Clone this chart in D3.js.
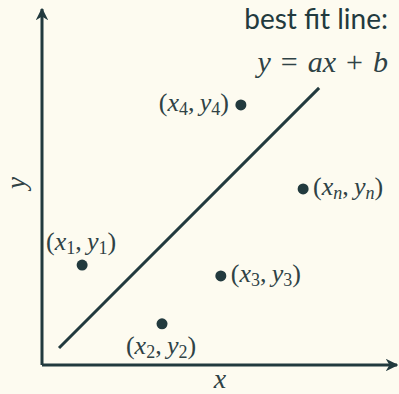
<!DOCTYPE html>
<html>
<head>
<meta charset="utf-8">
<script src="https://cdn.jsdelivr.net/npm/d3@7"></script>
<style>
	html, body { margin: 0; padding: 0; background: #fdfbf0; }
	svg { display: block; }
</style>
</head>
<body>
<svg id="chart" width="399" height="394"></svg>
<script>
"use strict";

// data points (schematic units, 0..10 on both axes)
var pointNames = ["1", "2", "3", "4", "n"];
var pointX = [1.18, 3.53, 5.26, 5.85, 7.68];
var pointY = [2.94, 1.21, 2.62, 7.65, 5.18];
// where each label sits relative to its dot
var labelSide = ["above", "below", "right", "left", "right"];

// best fit line y = a*x + b, drawn between these x values
var fitA = 1.0;
var fitB = 0.0;
var fitFrom = 0.5;
var fitTo = 8.15;

var ink = "#223a3e";
var soft = "#2f4245";
var bg = "#fdfbf0";
var serif = "Liberation Serif";

var svg = d3.select("#chart");
svg.append("rect").attr("width", 399).attr("height", 394).attr("fill", bg);

var ox = 42, oy = 365;
var x = d3.scaleLinear().domain([0, 10]).range([ox, ox + 340]);
var y = d3.scaleLinear().domain([0, 10]).range([oy, oy - 340]);

// arrow heads
var defs = svg.append("defs");
defs.append("marker")
	.attr("id", "arrow")
	.attr("viewBox", "0 0 10 10")
	.attr("refX", 9).attr("refY", 5)
	.attr("markerWidth", 4.2).attr("markerHeight", 4.2)
	.attr("markerUnits", "strokeWidth")
	.attr("orient", "auto")
	.append("path")
	.attr("d", "M0,0 L10,5 L0,10 L3,5 Z")
	.attr("fill", ink);

// axes
svg.append("path")
	.attr("d", "M" + ox + "," + oy + " L" + ox + ",9")
	.attr("stroke", ink).attr("stroke-width", 3).attr("fill", "none")
	.attr("marker-end", "url(#arrow)");
svg.append("path")
	.attr("d", "M" + ox + "," + oy + " L397," + oy)
	.attr("stroke", ink).attr("stroke-width", 3).attr("fill", "none")
	.attr("marker-end", "url(#arrow)");

// axis labels
svg.append("text")
	.attr("font-family", serif).attr("font-style", "italic")
	.attr("x", 220).attr("y", 388)
	.attr("text-anchor", "middle")
	.attr("font-size", 28).attr("fill", soft)
	.text("x");
svg.append("text")
	.attr("font-family", serif).attr("font-style", "italic")
	.attr("transform", "translate(25,183) rotate(-90)")
	.attr("text-anchor", "middle")
	.attr("font-size", 27).attr("fill", soft)
	.text("y");

// fit line
var line = d3.line().x(function(d){ return x(d); }).y(function(d){ return y(fitA*d + fitB); });
svg.append("path")
	.attr("d", line([fitFrom, fitTo]))
	.attr("stroke", ink).attr("stroke-width", 3).attr("fill", "none");

// points
var pts = pointNames.map(function(n, i){
	return {name: n, x: pointX[i], y: pointY[i], side: labelSide[i]};
});
svg.selectAll("circle.pt").data(pts).enter()
	.append("circle").attr("class", "pt")
	.attr("cx", function(d){ return x(d.x); })
	.attr("cy", function(d){ return y(d.y); })
	.attr("r", 5.5)
	.attr("fill", ink);

// point labels like (x_i, y_i)
var labels = svg.selectAll("text.pl").data(pts).enter()
	.append("text").attr("class", "pl")
	.attr("font-family", serif).attr("font-style", "italic")
	.attr("font-size", 26).attr("fill", soft)
	.attr("text-anchor", function(d){
		if (d.side === "left") return "end";
		if (d.side === "right") return "start";
		return "middle";
	})
	.attr("x", function(d){
		var px = x(d.x);
		if (d.side === "left") return px - 12;
		if (d.side === "right") return px + 10;
		return px - 1;
	})
	.attr("y", function(d){
		var py = y(d.y);
		if (d.side === "above") return py - 15.5;
		if (d.side === "below") return py + 30.5;
		return py + 6.5;
	});
labels.each(function(d){
	var t = d3.select(this);
	var subStyle = d.name === "n" ? "italic" : "normal";
	t.append("tspan").attr("font-style", "normal").text("(");
	t.append("tspan").text("x");
	t.append("tspan").attr("font-size", 18).attr("dy", 4).attr("font-style", subStyle).text(d.name);
	t.append("tspan").attr("dy", -4).attr("font-style", "normal").text(",\u2009");
	t.append("tspan").text("y");
	t.append("tspan").attr("font-size", 18).attr("dy", 4).attr("font-style", subStyle).text(d.name);
	t.append("tspan").attr("dy", -4).attr("font-style", "normal").text(")");
});

// title
svg.append("text")
	.attr("x", 388).attr("y", 29)
	.attr("text-anchor", "end")
	.attr("font-family", "Lato, 'Open Sans', sans-serif")
	.attr("font-size", 28).attr("fill", ink)
	.text("best fit line:");
var eq = svg.append("text")
	.attr("font-family", serif).attr("font-style", "italic")
	.attr("x", 388).attr("y", 72)
	.attr("text-anchor", "end")
	.attr("font-size", 30).attr("fill", soft);
eq.append("tspan").text("y");
eq.append("tspan").attr("font-style", "normal").text("\u2004=\u2004");
eq.append("tspan").text("ax");
eq.append("tspan").attr("font-style", "normal").text("\u2004+\u2004");
eq.append("tspan").text("b");
</script>
</body>
</html>
